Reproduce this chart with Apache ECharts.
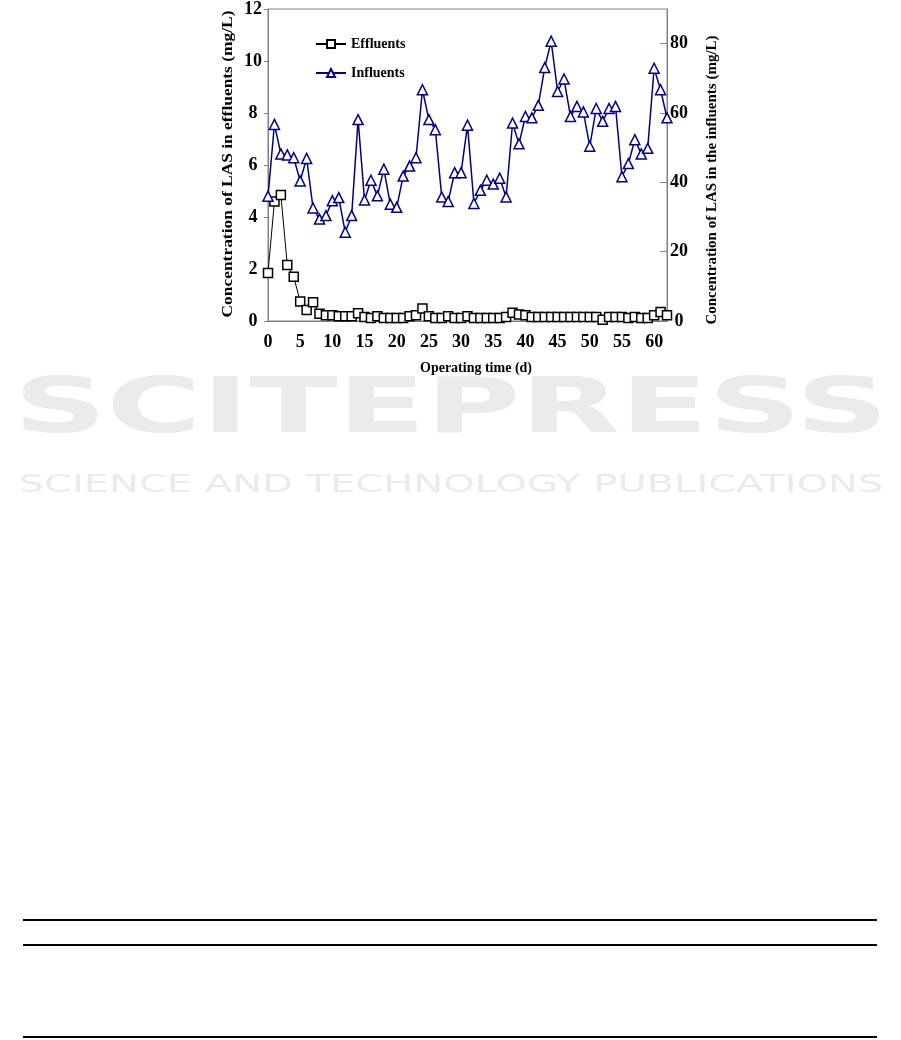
<!DOCTYPE html>
<html>
<head>
<meta charset="utf-8">
<script src="https://cdn.jsdelivr.net/npm/echarts@6/dist/echarts.min.js"></script>
<style>
html,body{margin:0;padding:0;background:#fff;}
#c{width:901px;height:1040px;}
</style>
</head>
<body>
<div id="c"></div>
<script>
// Operating time (d)
const days = [0,1,2,3,4,5,6,7,8,9,10,11,12,13,14,15,16,17,18,19,20,21,22,23,24,25,26,27,28,29,30,
  31,32,33,34,35,36,37,38,39,40,41,42,43,44,45,46,47,48,49,50,51,52,53,54,55,56,57,58,59,60,61,62];
// LAS in effluents (mg/L) - left axis
const effluents = [1.85,4.6,4.85,2.15,1.7,0.75,0.42,0.72,0.28,0.22,0.22,0.18,0.18,0.18,0.3,0.15,
  0.12,0.18,0.12,0.12,0.12,0.12,0.18,0.22,0.48,0.18,0.12,0.12,0.18,0.12,0.12,0.18,0.12,0.12,0.12,
  0.12,0.12,0.15,0.32,0.25,0.22,0.15,0.15,0.15,0.15,0.15,0.15,0.15,0.15,0.15,0.15,0.15,0.05,0.15,
  0.15,0.15,0.12,0.15,0.12,0.12,0.22,0.35,0.22];
// LAS in the influents (mg/L) - right axis
const influents = [36,56.7,48.2,47.9,47.1,40.4,46.9,32.6,29.4,30.4,34.7,35.6,25.6,30.4,58.1,34.9,
  40.6,36.1,43.8,33.7,32.8,41.8,44.7,47.1,66.7,58.1,55.2,35.8,34.5,42.8,42.8,56.5,33.9,37.7,40.6,
  39.5,41.2,35.8,57.1,51.1,59.0,58.6,62.2,73.1,80.7,66.2,69.8,59.0,61.9,60.3,50.4,61.3,57.6,61.3,
  61.9,41.6,45.4,52.3,48.2,49.8,72.9,66.7,58.6];
const seriesNames = ['Effluents','Influents'];
const leftTitle = 'Concentration of LAS in effluents (mg/L)';
const rightTitle = 'Concentration of LAS in the influents (mg/L)';
const xTitle = 'Operating time (d)';
const watermark1 = 'SCITEPRESS';
const watermark2 = 'SCIENCE AND TECHNOLOGY PUBLICATIONS';

const serif = '"Liberation Serif","Times New Roman",serif';
const chart = echarts.init(document.getElementById('c'), null, {renderer:'canvas'});
const lab = {fontFamily:serif, fontWeight:'bold', fontSize:18, color:'#000'};

chart.setOption({
  animation:false,
  backgroundColor:'#fff',
  grid:{left:268, right:234, top:7, bottom:719, show:true, borderColor:'#808080', borderWidth:1, containLabel:false},
  legend:{
    orient:'vertical', left:310, top:32, itemWidth:30, itemHeight:10, itemGap:15,
    textStyle:{fontFamily:serif, fontWeight:'bold', fontSize:14, color:'#000'},
    data:seriesNames
  },
  xAxis:{
    type:'value', min:0, max:62, interval:5,
    axisLine:{show:true, lineStyle:{color:'#808080', width:1}},
    axisTick:{show:false},
    splitLine:{show:false},
    axisLabel:Object.assign({margin:21, verticalAlign:'middle', showMaxLabel:false}, lab)
  },
  yAxis:[
    {type:'value', min:0, max:12, interval:2, position:'left',
     axisLine:{show:true, lineStyle:{color:'#808080'}},
     axisTick:{show:true, inside:false, length:4, lineStyle:{color:'#808080'}},
     splitLine:{show:false},
     axisLabel:Object.assign({margin:15, align:'center'}, lab)},
    {type:'value', min:0, max:90, interval:20, position:'right',
     axisLine:{show:true, lineStyle:{color:'#808080'}},
     axisTick:{show:true, inside:true, length:7, lineStyle:{color:'#808080'}},
     splitLine:{show:false},
     axisLabel:Object.assign({margin:12, align:'center', showMaxLabel:false}, lab)}
  ],
  series:[
    {name:seriesNames[0], type:'line', yAxisIndex:0,
     data:days.map((d,i)=>[d,effluents[i]]),
     symbol:'rect', symbolSize:9, showAllSymbol:true,
     lineStyle:{color:'#000', width:1},
     itemStyle:{color:'#fff', borderColor:'#000', borderWidth:1.5},
     z:2},
    {name:seriesNames[1], type:'line', yAxisIndex:1,
     data:days.map((d,i)=>[d,influents[i]]),
     symbol:'triangle', symbolSize:[10,10], showAllSymbol:true,
     lineStyle:{color:'#000080', width:1.5},
     itemStyle:{color:'#fff', borderColor:'#000080', borderWidth:1.5},
     z:3}
  ],
  graphic:[
    {type:'text', x:228, y:164, rotation:Math.PI/2, scaleX:1.16, z:10,
     style:{text:leftTitle, fontFamily:serif, fontWeight:'bold', fontSize:15, fill:'#000', align:'center', verticalAlign:'middle'}},
    {type:'text', x:712, y:180, rotation:Math.PI/2, z:10,
     style:{text:rightTitle, fontFamily:serif, fontWeight:'bold', fontSize:15, fill:'#000', align:'center', verticalAlign:'middle'}},
    {type:'text', x:476, y:368, z:10,
     style:{text:xTitle, fontFamily:serif, fontWeight:'bold', fontSize:14, fill:'#000', align:'center', verticalAlign:'middle'}},
    {type:'text', x:451, y:412, scaleX:1.7, z:-1, silent:true,
     style:{text:watermark1, fontFamily:'"DejaVu Sans"', fontWeight:'bold', fontSize:76, fill:'#ebebeb', align:'center', verticalAlign:'middle'}},
    {type:'text', x:451, y:485, scaleX:1.6, z:-1, silent:true,
     style:{text:watermark2, fontFamily:'"DejaVu Sans"', fontWeight:'normal', fontSize:25, fill:'#ebebeb', align:'center', verticalAlign:'middle'}},
    {type:'rect', shape:{x:23, y:919, width:854, height:2}, style:{fill:'#000'}},
    {type:'rect', shape:{x:23, y:944, width:854, height:2}, style:{fill:'#000'}},
    {type:'rect', shape:{x:23, y:1036, width:854, height:2}, style:{fill:'#000'}}
  ]
});
</script>
</body>
</html>
